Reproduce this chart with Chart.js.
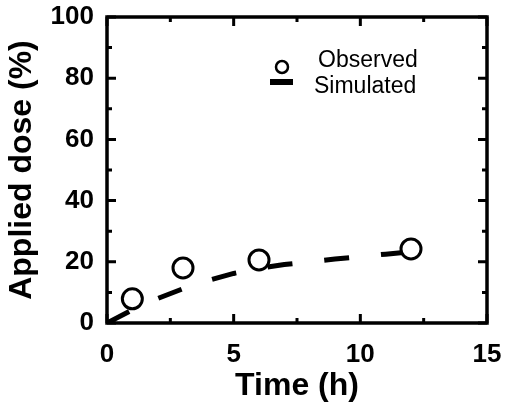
<!DOCTYPE html>
<html>
<head>
<meta charset="utf-8">
<script src="https://cdn.jsdelivr.net/npm/chart.js@4"></script>
<style>
html,body{margin:0;padding:0;background:#fff;}
canvas{display:block;}
</style>
</head>
<body>
<canvas id="c" width="507" height="414"></canvas>
<script>
// ---- data ----
const observedTime = [1, 3, 6, 12];
const observedDose = [7.9, 18.0, 20.6, 24.2];
const simTime = [0, 1, 2, 3, 4, 5, 6, 7, 8, 9, 10, 11, 12];
const simDose = [0, 4.3, 8.0, 11.2, 13.9, 16.2, 17.9, 19.1, 20.0, 20.9, 21.7, 22.5, 23.3];
const xTickValues = [0, 5, 10, 15];
const xMinorTicks = [2.5, 7.5, 12.5];
const yTickValues = [0, 20, 40, 60, 80, 100];
const yMinorTicks = [10, 30, 50, 70, 90];
const seriesNames = ['Observed', 'Simulated'];
const xTitle = 'Time (h)';
const yTitle = 'Applied dose (%)';

const FONT = "'Liberation Sans', Arial, Helvetica, sans-serif";

const framePlugin = {
  id: 'frame',
  afterDatasetsDraw(chart) {
    const {ctx, chartArea: a, scales: {x, y}} = chart;
    ctx.save();
    ctx.strokeStyle = '#000';
    ctx.lineWidth = 3;
    ctx.lineCap = 'butt';
    ctx.beginPath();
    const tick = (px, len, vertical) => {
      if (vertical) {
        ctx.moveTo(px, a.bottom); ctx.lineTo(px, a.bottom - len);
        ctx.moveTo(px, a.top); ctx.lineTo(px, a.top + len);
      } else {
        ctx.moveTo(a.left, px); ctx.lineTo(a.left + len, px);
        ctx.moveTo(a.right, px); ctx.lineTo(a.right - len, px);
      }
    };
    xTickValues.forEach(v => tick(x.getPixelForValue(v), 9, true));
    xMinorTicks.forEach(v => tick(x.getPixelForValue(v), 5, true));
    yTickValues.forEach(v => tick(y.getPixelForValue(v), 9, false));
    yMinorTicks.forEach(v => tick(y.getPixelForValue(v), 5, false));
    ctx.stroke();
    ctx.lineWidth = 3.5;
    ctx.strokeRect(a.left, a.top, a.right - a.left, a.bottom - a.top);
    ctx.restore();
  },
  afterDraw(chart) {
    const ctx = chart.ctx;
    ctx.save();
    // legend
    ctx.strokeStyle = '#000';
    ctx.fillStyle = '#fff';
    ctx.lineWidth = 2.5;
    ctx.beginPath();
    ctx.arc(282, 67, 6, 0, Math.PI * 2);
    ctx.fill();
    ctx.stroke();
    ctx.fillStyle = '#000';
    ctx.fillRect(270, 79, 23, 6);
    ctx.font = '23px ' + FONT;
    ctx.textBaseline = 'alphabetic';
    ctx.textAlign = 'left';
    ctx.fillText(chart.data.datasets[0].label, 318, 67);
    ctx.fillText(chart.data.datasets[1].label, 314, 93);
    ctx.restore();
  }
};

function zeroPad(s) { s.paddingLeft = 0; s.paddingRight = 0; s.paddingTop = 0; s.paddingBottom = 0; }

new Chart(document.getElementById('c'), {
  type: 'scatter',
  data: {
    datasets: [
      {
        label: seriesNames[0],
        data: observedTime.map((t, i) => ({x: t, y: observedDose[i]})),
        showLine: false,
        pointRadius: 10,
        pointHoverRadius: 10,
        pointBorderWidth: 3,
        pointBackgroundColor: '#fff',
        pointBorderColor: '#000',
        order: 0
      },
      {
        label: seriesNames[1],
        data: simTime.map((t, i) => ({x: t, y: simDose[i]})),
        showLine: true,
        borderColor: '#000',
        borderWidth: 5,
        borderDash: [25, 32],
        borderCapStyle: 'butt',
        pointRadius: 0,
        tension: 0,
        fill: false,
        order: 1
      }
    ]
  },
  options: {
    responsive: false,
    devicePixelRatio: 1,
    animation: false,
    events: [],
    layout: {padding: {left: 0, right: 20, top: 17, bottom: 0}},
    plugins: {legend: {display: false}, tooltip: {enabled: false}},
    scales: {
      x: {
        type: 'linear',
        min: 0, max: 15,
        afterBuildTicks: s => { s.ticks = xTickValues.map(v => ({value: v})); },
        afterFit: s => { s.height = 91; zeroPad(s); },
        grid: {display: false, drawTicks: false},
        border: {display: false},
        ticks: {color: '#000', padding: 16, maxRotation: 0, font: {family: FONT, size: 26, weight: 'bold'}},
        title: {display: true, text: xTitle, color: '#000', padding: {top: 0, bottom: 9}, font: {family: FONT, size: 32, weight: 'bold'}}
      },
      y: {
        type: 'linear',
        min: 0, max: 100,
        afterBuildTicks: s => { s.ticks = yTickValues.map(v => ({value: v})); },
        afterFit: s => { s.width = 107; zeroPad(s); },
        grid: {display: false, drawTicks: false},
        border: {display: false},
        ticks: {color: '#000', padding: 13, font: {family: FONT, size: 26, weight: 'bold'}},
        title: {display: true, text: yTitle, color: '#000', padding: {top: 3, bottom: 0}, font: {family: FONT, size: 32, weight: 'bold'}}
      }
    }
  },
  plugins: [framePlugin]
});
</script>
</body>
</html>
